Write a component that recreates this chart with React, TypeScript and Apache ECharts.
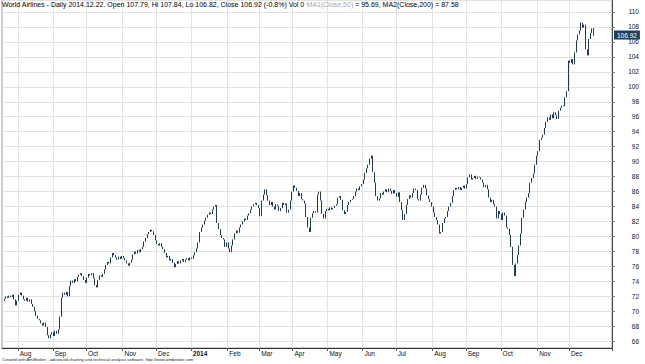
import React, { useEffect, useRef } from 'react';
import * as echarts from 'echarts';

// Daily closes (trading weekdays)
const closes2013 = [
  71.4, 71.7, 72.0, 71.8, 72.1, 71.9, 72.2, 71.6, 70.8, 71.4,
  72.2, 72.5, 72.1, 71.6, 71.4, 71.8, 71.3, 71.6, 71.0, 70.6,
  70.0, 69.4, 69.0, 68.8, 68.4, 68.1, 68.5, 67.9, 66.8, 66.4,
  66.9, 67.2, 66.7, 67.4, 67.0, 67.6, 69.3, 71.8, 72.5, 72.2,
  72.6, 72.0, 73.4, 74.1, 73.8, 74.3, 74.0, 74.6, 74.9, 75.1,
  74.7, 74.2, 73.8, 74.5, 75.0, 74.8, 75.1, 74.4, 73.5, 73.2,
  74.2, 74.8, 74.6, 75.0, 75.6, 76.2, 76.6, 76.4, 77.2, 77.8,
  77.5, 77.2, 76.9, 77.3, 77.0, 77.4, 77.1, 76.8, 76.4, 76.1,
  76.5, 76.9, 77.6, 78.0, 77.7, 78.2, 77.9, 78.3, 78.6, 79.3,
  79.8, 80.3, 80.6, 80.9, 80.7, 80.2, 79.5, 79.0, 78.8, 79.1,
  78.6, 78.3, 77.8, 77.2, 77.4, 76.8, 77.0, 76.5, 75.9, 76.3,
  76.7, 76.4, 76.8, 77.0, 76.6, 76.9, 77.1, 76.8, 77.2,
];
const closes2014H1 = [
  77.0,
  77.5, 77.9, 78.4, 79.2, 80.6, 81.2, 81.6, 82.1, 82.5, 82.9,
  83.2, 83.0, 83.6, 84.0, 84.2, 81.8, 81.0, 80.2, 79.8, 79.6,
  78.6, 79.2, 78.4, 77.9, 78.8, 79.6, 80.4, 80.8, 80.5, 81.2,
  81.6, 82.0, 82.4, 82.2, 82.8, 83.1, 83.6, 84.0, 84.3, 84.5,
  84.2, 83.8, 82.7, 84.8, 85.6, 86.3, 85.5, 84.8, 84.2, 84.6,
  84.0, 83.6, 84.3, 84.1, 83.4, 83.8, 84.5, 84.2, 84.4, 83.2,
  83.6, 84.8, 86.0, 86.8, 86.5, 86.1, 85.4, 85.8, 85.0, 84.8,
  84.4, 82.6, 81.2, 80.6, 82.5, 83.1, 83.4, 83.2, 85.6, 86.0,
  84.8, 83.0, 82.4, 83.4, 83.7, 83.5, 83.9, 83.6, 83.8, 84.1,
  84.3, 85.2, 85.4, 84.9, 83.5, 83.0, 83.3, 84.2, 84.6, 84.9,
  85.0, 85.4, 86.0, 86.4, 86.2, 86.7, 87.0, 87.6, 88.5, 89.1,
  89.6, 90.4, 90.8, 88.6, 87.2, 85.4, 84.8, 85.1, 85.8, 85.6,
  86.0, 86.3, 85.9, 86.4, 86.1, 85.7, 86.2, 85.8,
];
const closes2014H2 = [
  85.3, 85.9,
  84.6, 83.5, 82.2, 83.0, 84.2, 85.0, 85.5, 85.2, 85.8, 86.4,
  86.2, 85.0, 84.8, 85.6, 86.5, 86.9, 86.4, 85.5, 85.0, 84.6,
  84.0, 83.2, 82.6, 82.2, 81.6, 80.4, 80.6, 81.8, 82.4, 82.6,
  83.4, 84.0, 84.5, 85.4, 86.2, 86.5, 86.3, 86.6, 86.2, 86.5,
  86.8, 86.4, 87.0, 87.9, 88.3, 87.6, 87.8, 88.1, 87.7, 88.0,
  87.9, 87.6, 87.2, 86.6, 86.9, 86.3, 85.2, 84.6, 84.9, 84.3,
  84.0, 82.4, 83.4, 83.0, 82.2, 83.2, 82.8, 81.2, 81.0, 80.2,
  78.6, 76.2, 74.7, 76.4, 77.5, 78.8, 80.4, 82.5, 83.6, 84.6,
  85.2, 85.8, 87.2, 87.8, 88.4, 89.6, 90.8, 91.4, 92.9, 93.2,
  93.6, 94.5, 95.3, 95.9, 95.6, 96.3, 95.8, 96.6, 96.2, 95.7,
  96.8, 97.2, 97.5, 97.4, 98.6, 99.4, 103.5, 103.2, 103.7, 103.0,
  104.6, 106.2, 107.0, 107.5, 108.6, 107.9, 108.3, 105.0, 104.2, 106.4,
  107.2, 107.8, 106.92,
];
// last bar: open, close, low, high (from the header)
const lastBar = [107.79, 106.92, 106.82, 107.84];

const firstDay = '2013-07-18';
const trailingBlankDays = 11;
const monthNames = ['Jan', 'Feb', 'Mar', 'Apr', 'May', 'Jun', 'Jul', 'Aug', 'Sep', 'Oct', 'Nov', 'Dec'];

const headerMain = 'World Airlines - Daily 2014.12.22. Open 107.79, Hi 107.84, Lo 106.82, Close 106.92 (-0.8%) Vol 0 ';
const headerMa1 = 'MA1(Close,50)';
const headerRest = ' = 95.69, MA2(Close,200) = 87.58';
const footer = 'Created with AmiBroker - advanced charting and technical analysis software. http://www.amibroker.com';

const FONT = '"Liberation Sans", Arial, sans-serif';

function weekdayList(start: string, count: number): string[] {
  const out: string[] = [];
  const d = new Date(start + 'T00:00:00Z');
  while (out.length < count) {
    const wd = d.getUTCDay();
    if (wd !== 0 && wd !== 6) out.push(d.toISOString().slice(0, 10));
    d.setUTCDate(d.getUTCDate() + 1);
  }
  return out;
}

export default function App() {
  const ref = useRef<HTMLDivElement>(null);
  useEffect(() => {
    if (!ref.current) return;
    const chart = echarts.init(ref.current, null, { renderer: 'svg' });
    const closes = [...closes2013, ...closes2014H1, ...closes2014H2];
    const n = closes.length;
    const dates = weekdayList(firstDay, n + trailingBlankDays);
    const ohlc = closes.map((c, i) => {
      if (i === n - 1) return [lastBar[0], lastBar[1], lastBar[2], lastBar[3]];
      const o = i === 0 ? c : closes[i - 1];
      return [o, c, Math.min(o, c), Math.max(o, c)];
    });
    const month = (s: string) => Number(s.slice(5, 7)) - 1;
    const isMonthStart = (i: number) => i > 0 && i < n && month(dates[i]) !== month(dates[i - 1]);
    const barColor = '#1f3b58';

    chart.setOption({
      animation: false,
      title: {
        left: 2,
        top: 0,
        padding: [1, 0, 0, 0],
        text: `{a|${headerMain}}{g|${headerMa1}}{a|${headerRest}}`,
        textStyle: {
          fontSize: 7,
          fontWeight: 'normal',
          fontFamily: FONT,
          rich: {
            a: { fontSize: 7, color: '#000', fontFamily: FONT },
            g: { fontSize: 7, color: '#aaaaaa', fontFamily: FONT },
          },
        },
      },
      grid: {
        left: 2,
        right: 33,
        top: 0,
        bottom: 16,
        show: true,
        borderColor: '#9a9a9a',
        borderWidth: 1,
      },
      xAxis: {
        type: 'category',
        data: dates,
        boundaryGap: true,
        axisLine: { show: true, lineStyle: { color: '#333' } },
        axisTick: {
          show: true,
          interval: (i: number) => isMonthStart(i),
          length: 3,
          lineStyle: { color: '#555' },
        },
        axisLabel: {
          interval: (i: number) => isMonthStart(i),
          formatter: (v: string) => {
            const m = month(v);
            return m === 0 ? `{b|${v.slice(0, 4)}}` : monthNames[m];
          },
          align: 'left',
          margin: 2,
          padding: [0, 0, 0, 1],
          fontSize: 6.5,
          color: '#111',
          fontFamily: FONT,
          rich: { b: { fontWeight: 'bold', fontSize: 6.5, color: '#111', fontFamily: FONT } },
        },
        splitLine: {
          show: true,
          interval: (i: number) => isMonthStart(i),
          lineStyle: { color: '#e2e2e2', width: 1 },
        },
      },
      yAxis: {
        type: 'value',
        position: 'right',
        min: 65.1,
        max: 111.6,
        splitNumber: 23,
        axisLine: { show: true, lineStyle: { color: '#444' } },
        axisTick: { show: true, length: 3, lineStyle: { color: '#777' } },
        axisLabel: {
          showMinLabel: false,
          showMaxLabel: false,
          align: 'right',
          margin: 27,
          fontSize: 6.5,
          color: '#111',
          fontFamily: FONT,
        },
        splitLine: { show: true, lineStyle: { color: '#e2e2e2', width: 1 } },
      },
      series: [
        {
          type: 'candlestick',
          data: ohlc,
          barWidth: 1.2,
          itemStyle: {
            color: barColor,
            color0: barColor,
            borderColor: barColor,
            borderColor0: barColor,
            borderWidth: 1,
          },
          markLine: {
            silent: true,
            symbol: ['none', 'none'],
            lineStyle: { width: 0, color: 'rgba(0,0,0,0)', type: 'solid' },
            label: {
              show: true,
              position: 'end',
              distance: 2,
              formatter: () => lastBar[1].toFixed(2),
              backgroundColor: '#1f3d5c',
              color: '#ffffff',
              fontSize: 6.5,
              fontFamily: FONT,
              padding: [1, 3, 1, 3],
              opacity: 1,
            },
            emphasis: { disabled: true },
            data: [{ yAxis: lastBar[1] }],
          },
        },
      ],
      graphic: [
        {
          type: 'text',
          left: 2,
          top: 357,
          style: { text: footer, fontSize: 4.2, fill: '#222', fontFamily: FONT },
        },
      ],
    });
    return () => chart.dispose();
  }, []);
  return (
    <div
      ref={ref}
      style={{ position: 'fixed', left: 0, top: 0, width: 645, height: 364, background: '#fff' }}
    />
  );
}
